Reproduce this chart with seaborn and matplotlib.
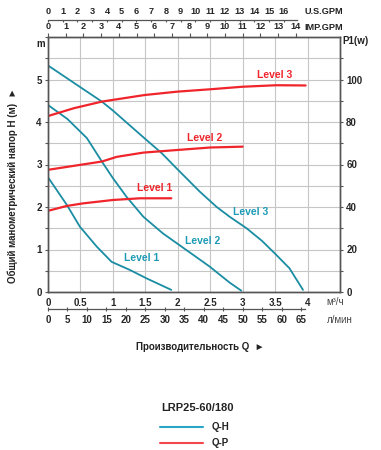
import numpy as np
import pandas as pd
import matplotlib
matplotlib.use("Agg")
import matplotlib.pyplot as plt
from matplotlib.lines import Line2D
import seaborn as sns

# Q-H curves: flow (m3/h) and head (m)
qh1_q = [0, 0.29, 0.49, 0.75, 0.98, 1.26, 1.52, 1.9]
qh1_h = [2.7, 2.05, 1.54, 1.07, 0.71, 0.52, 0.32, 0.05]
qh2_q = [0, 0.3, 0.6, 0.83, 1.0, 1.21, 1.47, 1.77, 2.13, 2.49, 2.8, 2.98]
qh2_h = [4.4, 4.07, 3.62, 3.07, 2.68, 2.24, 1.77, 1.38, 0.99, 0.6, 0.22, 0.03]
qh3_q = [0, 0.4, 0.83, 1.0, 1.5, 1.75, 2.0, 2.34, 2.6, 2.8, 3.06, 3.3, 3.52, 3.72, 3.93]
qh3_h = [5.33, 4.92, 4.48, 4.27, 3.6, 3.27, 2.88, 2.36, 2.0, 1.77, 1.5, 1.2, 0.87, 0.56, 0.05]

# Q-P curves: flow (m3/h) and power (W)
qp1_q = [0, 0.29, 0.54, 1.0, 1.42, 1.9]
qp1_p = [38.2, 40.5, 41.7, 43.3, 44.1, 44.1]
qp2_q = [0, 0.49, 0.83, 1.06, 1.47, 1.98, 2.5, 3.0]
qp2_p = [57.5, 59.8, 61.4, 63.6, 65.6, 66.8, 68.0, 68.4]
qp3_q = [0, 0.4, 0.83, 1.49, 2.0, 2.5, 3.0, 3.52, 3.97]
qp3_p = [82.8, 86.5, 89.6, 92.7, 94.3, 95.4, 96.6, 97.3, 97.2]

levels = ["Level 1", "Level 2", "Level 3"]

qh = pd.concat([
    pd.DataFrame({"q": qh1_q, "h": qh1_h, "level": levels[0]}),
    pd.DataFrame({"q": qh2_q, "h": qh2_h, "level": levels[1]}),
    pd.DataFrame({"q": qh3_q, "h": qh3_h, "level": levels[2]}),
])
qp = pd.concat([
    pd.DataFrame({"q": qp1_q, "p": qp1_p, "level": levels[0]}),
    pd.DataFrame({"q": qp2_q, "p": qp2_p, "level": levels[1]}),
    pd.DataFrame({"q": qp3_q, "p": qp3_p, "level": levels[2]}),
])

sns.set_theme(style="white")
plt.rcParams["font.family"] = ["Liberation Sans", "DejaVu Sans"]
plt.rcParams["font.weight"] = "bold"

TEAL = "#1a8da3"
TEAL_TXT = "#1d9bb6"
RED = "#f0242b"
EDGE = "#555555"
FS = 7
FS_TOP = 6.6

W, H = 381, 450
fig = plt.figure(figsize=(W / 100, H / 100), dpi=100)
ax = fig.add_axes([48 / W, 1 - 292 / H, 292 / W, 255 / H])

sns.lineplot(data=qh, x="q", y="h", units="level", estimator=None, sort=False,
             color=TEAL, lw=1.3, ax=ax, legend=False)
ax.set_xlim(0, 4.5)
ax.set_ylim(0, 6)

ax2 = ax.twinx()
sns.lineplot(data=qp, x="q", y="p", units="level", estimator=None, sort=False,
             color=RED, lw=1.6, ax=ax2, legend=False)
ax2.set_ylim(0, 120)

# grid and main ticks
ax.set_xticks(np.arange(0, 4.51, 0.5))
ax.set_xticklabels(["0", "0.5", "1", "1.5", "2", "2.5", "3", "3.5", "4", ""])
ax.set_yticks(np.arange(0, 6.01, 0.5))
ax.set_yticklabels([str(int(v)) if v % 1 == 0 and v < 6 else "" for v in np.arange(0, 6.01, 0.5)])
ax.grid(True, color="#c6c6c6", lw=0.8)
ax.set_xlabel("")
ax.set_ylabel("")
ax.tick_params(axis="x", length=0, pad=4.5, labelsize=FS)
ax.tick_params(axis="y", direction="out", length=2.5, width=0.8, color=EDGE, pad=2, labelsize=FS, left=True)

ax2.set_yticks(np.arange(0, 111, 10))
ax2.set_yticklabels([str(v) if v % 20 == 0 else "" for v in range(0, 111, 10)])
ax2.set_ylabel("")
ax2.tick_params(axis="y", direction="out", length=2.5, width=0.8, color=EDGE, pad=2, labelsize=FS, right=True)

for a in (ax, ax2):
    for s in a.spines.values():
        s.set_color(EDGE)
        s.set_linewidth(1.0)

# secondary flow scales
imp = ax.secondary_xaxis("top", functions=(lambda x: x * 3.666, lambda x: x / 3.666))
imp.set_xticks(range(0, 15))
imp.tick_params(direction="out", length=3, width=0.8, color=EDGE, pad=1.5, labelsize=FS_TOP)
imp.spines["top"].set_visible(False)

us = ax.secondary_xaxis(1.067, functions=(lambda x: x * 4.403, lambda x: x / 4.403))
us.set_xticks(range(0, 17))
us.tick_params(direction="in", length=1.5, width=0.8, color=EDGE, pad=3, labelsize=FS_TOP)
us.spines["top"].set_color(EDGE)
us.spines["top"].set_linewidth(0.9)
us.spines["top"].set_bounds(0, 16.9)

lmin = ax.secondary_xaxis(-0.067, functions=(lambda x: x * 16.667, lambda x: x / 16.667))
lmin.set_xticks(range(0, 66, 5))
lmin.tick_params(direction="inout", length=3, width=0.8, color=EDGE, pad=3, labelsize=FS)
lmin.spines["bottom"].set_color(EDGE)
lmin.spines["bottom"].set_linewidth(0.9)
lmin.spines["bottom"].set_bounds(0, 66)

# unit labels
def ftxt(x, y, s, **kw):
    kw.setdefault("fontsize", FS)
    kw.setdefault("fontweight", "bold")
    kw.setdefault("color", "#222222")
    fig.text(x / W, 1 - y / H, s, **kw)

ftxt(343, 12, "U.S.GPM", ha="right", va="center", fontsize=FS_TOP)
ftxt(343, 27, "IMP.GPM", ha="right", va="center", fontsize=FS_TOP)
ftxt(342, 41, "P1(w)", ha="left", va="center")
ftxt(41, 44, "m", ha="center", va="center")
ftxt(326, 302, "м³/ч", ha="left", va="center", fontweight="normal", color="#444444")
ftxt(327, 320, "л/мин", ha="left", va="center", fontweight="normal", color="#444444")
ftxt(200, 347, "Производительность Q  ►", ha="center", va="center")
ftxt(13, 185, "Общий манометрический напор H (м)  ►", ha="center", va="center", rotation=90)

# curve labels
ax.text(3.49, 5.1, "Level 3", color=RED, fontsize=7.5, fontweight="bold", ha="center", va="center")
ax.text(2.42, 3.62, "Level 2", color=RED, fontsize=7.5, fontweight="bold", ha="center", va="center")
ax.text(1.65, 2.45, "Level 1", color=RED, fontsize=7.5, fontweight="bold", ha="center", va="center")
ax.text(3.13, 1.88, "Level 3", color=TEAL_TXT, fontsize=7.5, fontweight="bold", ha="center", va="center")
ax.text(2.39, 1.21, "Level 2", color=TEAL_TXT, fontsize=7.5, fontweight="bold", ha="center", va="center")
ax.text(1.44, 0.79, "Level 1", color=TEAL_TXT, fontsize=7.5, fontweight="bold", ha="center", va="center")

# legend
ftxt(198, 408, "LRP25-60/180", ha="center", va="center", fontsize=8)
fig.add_artist(Line2D([160 / W, 203 / W], [1 - 427 / H] * 2, color="#2aa6c4", lw=1.5))
fig.add_artist(Line2D([160 / W, 203 / W], [1 - 443 / H] * 2, color="#f2484c", lw=1.5))
ftxt(212, 427, "Q-H", ha="left", va="center")
ftxt(212, 443, "Q-P", ha="left", va="center")

fig.savefig("out.png", dpi=100)
